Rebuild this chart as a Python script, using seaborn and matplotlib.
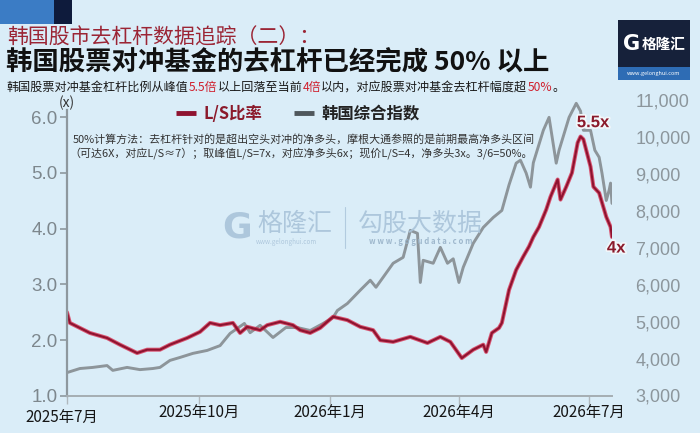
import matplotlib
matplotlib.use("Agg")
import matplotlib.pyplot as plt
import matplotlib.patheffects as pe
from matplotlib.lines import Line2D
from matplotlib.patches import Rectangle
from matplotlib.transforms import ScaledTranslation
import pandas as pd
import seaborn as sns

# ---------------- data ----------------
ls_dates = ["2025-07-01", "2025-07-03", "2025-07-10", "2025-07-17", "2025-07-29", "2025-08-07",
            "2025-08-19", "2025-08-26", "2025-09-04", "2025-09-11", "2025-09-23", "2025-10-02",
            "2025-10-09", "2025-10-16", "2025-10-25", "2025-10-30", "2025-11-04", "2025-11-13",
            "2025-11-18", "2025-11-27", "2025-12-06", "2025-12-11", "2025-12-18", "2025-12-25",
            "2026-01-03", "2026-01-13", "2026-01-22", "2026-01-31", "2026-02-05", "2026-02-14",
            "2026-02-26", "2026-03-10", "2026-03-19", "2026-03-26", "2026-04-03", "2026-04-11",
            "2026-04-18", "2026-04-20", "2026-04-24", "2026-04-29", "2026-05-01", "2026-05-06",
            "2026-05-11", "2026-05-16", "2026-05-20", "2026-05-23", "2026-05-27", "2026-06-01",
            "2026-06-04", "2026-06-09", "2026-06-11", "2026-06-15", "2026-06-19", "2026-06-23",
            "2026-06-25", "2026-06-27", "2026-07-02", "2026-07-04", "2026-07-08", "2026-07-13",
            "2026-07-16", "2026-07-17"]
ls_values = [2.50, 2.31, 2.22, 2.13, 2.04, 1.92,
             1.77, 1.83, 1.83, 1.92, 2.04, 2.15,
             2.31, 2.27, 2.31, 2.13, 2.24, 2.18,
             2.27, 2.33, 2.27, 2.18, 2.13, 2.22,
             2.42, 2.36, 2.24, 2.18, 2.00, 1.97,
             2.06, 1.95, 2.06, 1.97, 1.68, 1.83,
             1.92, 1.79, 2.13, 2.22, 2.31, 2.90,
             3.26, 3.50, 3.68, 3.85, 4.03, 4.34,
             4.57, 4.88, 4.52, 4.75, 5.00, 5.54,
             5.65, 5.60, 5.11, 4.75, 4.64, 4.21,
             4.03, 3.85]

kospi_dates = ["2025-07-01", "2025-07-10", "2025-07-19", "2025-07-29", "2025-08-02", "2025-08-12",
               "2025-08-21", "2025-08-30", "2025-09-04", "2025-09-11", "2025-09-18", "2025-09-27",
               "2025-10-07", "2025-10-16", "2025-10-23", "2025-11-02", "2025-11-06", "2025-11-13",
               "2025-11-22", "2025-12-01", "2025-12-09", "2025-12-18", "2025-12-27", "2026-01-03",
               "2026-01-06", "2026-01-13", "2026-01-22", "2026-01-29", "2026-02-02", "2026-02-07",
               "2026-02-14", "2026-02-21", "2026-02-26", "2026-03-03", "2026-03-05", "2026-03-07",
               "2026-03-14", "2026-03-19", "2026-03-24", "2026-03-28", "2026-04-01", "2026-04-04",
               "2026-04-11", "2026-04-18", "2026-04-25", "2026-05-01", "2026-05-06", "2026-05-11",
               "2026-05-14", "2026-05-18", "2026-05-21", "2026-05-23", "2026-05-30", "2026-06-03",
               "2026-06-08", "2026-06-10", "2026-06-17", "2026-06-22", "2026-06-25", "2026-06-27",
               "2026-07-02", "2026-07-05", "2026-07-08", "2026-07-10", "2026-07-13", "2026-07-15",
               "2026-07-16", "2026-07-17"]
kospi_values = [3620, 3730, 3760, 3810, 3680, 3760,
                3700, 3730, 3760, 3950, 4030, 4140,
                4220, 4350, 4680, 4950, 4700, 4900,
                4570, 4840, 4840, 4760, 4950, 5110,
                5300, 5490, 5850, 6120, 5930, 6200,
                6580, 6740, 7470, 7390, 6060, 6660,
                6580, 7010, 6580, 6700, 6060, 6470,
                7120, 7550, 7820, 8010, 8700, 9290,
                9370, 9020, 8640, 9300, 10180, 10530,
                9290, 9640, 10530, 10910, 10700, 10180,
                10180, 9640, 9450, 9020, 8280, 8560,
                8750, 8200]

x_tick_dates = ["2025-07-01", "2025-10-01", "2026-01-01", "2026-04-01", "2026-07-01"]
x_tick_labels = ["2025年7月", "2025年10月", "2026年1月", "2026年4月", "2026年7月"]
left_ticks = [1.0, 2.0, 3.0, 4.0, 5.0, 6.0]
right_ticks = [3000, 4000, 5000, 6000, 7000, 8000, 9000, 10000, 11000]

series_names = ["L/S比率", "韩国综合指数"]
peak_label = "5.5x"
end_label = "4x"

title1 = "韩国股市去杠杆数据追踪（二）："
title2 = "韩国股票对冲基金的去杠杆已经完成 50% 以上"
subtitle_parts = [("韩国股票对冲基金杠杆比例从峰值", "#1a1a1a"), ("5.5倍", "#d0202e"),
                  ("以上回落至当前", "#1a1a1a"), ("4倍", "#d0202e"),
                  ("以内，对应股票对冲基金去杠杆幅度超", "#1a1a1a"), ("50%", "#d0202e"),
                  ("。", "#1a1a1a")]
note1 = "50%计算方法：去杠杆针对的是超出空头对冲的净多头，摩根大通参照的是前期最高净多头区间"
note2 = "（可达6X，对应L/S≈7）；取峰值L/S=7x，对应净多头6x；现价L/S=4，净多头3x。3/6=50%。"

# ---------------- style ----------------
sns.set_theme(style="white")
plt.rcParams["font.family"] = ["Noto Sans CJK SC", "DejaVu Sans"]
plt.rcParams["axes.unicode_minus"] = False

BG = "#daedf8"
RED_DARK = "#8e1330"
RED_GLOW = "#d8163a"
GRAY_LINE = "#8d959a"
AXIS_GRAY = "#7d878d"
W, H = 700, 433

ls_df = pd.DataFrame({"date": pd.to_datetime(ls_dates), "value": ls_values})
kp_df = pd.DataFrame({"date": pd.to_datetime(kospi_dates), "value": kospi_values})

fig = plt.figure(figsize=(7, 4.33), dpi=100, facecolor=BG)


def fx(px):
    return px / W


def fy(py):
    return 1 - py / H


ax = fig.add_axes([fx(67), fy(396), fx(612) - fx(67), fy(100) - fy(396)])
ax2 = ax.twinx()
ax.set_zorder(ax2.get_zorder() + 1)
ax.patch.set_visible(False)
ax2.patch.set_visible(False)

# index line (right axis)
sns.lineplot(data=kp_df, x="date", y="value", ax=ax2, color=GRAY_LINE, lw=2.1, legend=False)
# L/S ratio line (left axis) with a glow
sns.lineplot(data=ls_df, x="date", y="value", ax=ax, color=RED_GLOW, lw=2.9, alpha=0.7, legend=False)
sns.lineplot(data=ls_df, x="date", y="value", ax=ax, color=RED_DARK, lw=1.5, legend=False)

xmin, xmax = ls_df["date"].min(), ls_df["date"].max()
ax.set_xlim(xmin, xmax)
ax.set_ylim(1.0, 6.305)
ax2.set_ylim(2986, 11000)

ax.set_xlabel("")
ax.set_ylabel("")
ax2.set_xlabel("")
ax2.set_ylabel("")

# left axis
ax.set_yticks(left_ticks)
ax.set_yticklabels([f"{v:.1f}" for v in left_ticks], family="Liberation Sans",
                   fontsize=13.5, color=AXIS_GRAY)
ax.tick_params(axis="y", direction="out", length=5, width=1.2, color="#8e989e", pad=2, left=True)

# x axis
ax.set_xticks(pd.to_datetime(x_tick_dates))
ax.set_xticklabels(x_tick_labels, fontsize=11, color="#151515")
ax.tick_params(axis="x", direction="out", length=6, width=1, color="#b0b8bd", pad=0, bottom=True)
first = ax.get_xticklabels()[0]
first.set_transform(first.get_transform() + ScaledTranslation(-5 / 100, -5 / 100, fig.dpi_scale_trans))

# right axis
ax2.set_yticks(right_ticks)
ax2.set_yticklabels([f"{v:,}" for v in right_ticks], family="Liberation Sans",
                    fontsize=13, color="#8c969c")
ax2.tick_params(axis="y", length=0, pad=17)

for a in (ax, ax2):
    for s in ("top", "right"):
        a.spines[s].set_visible(False)
ax2.spines["left"].set_visible(False)
ax2.spines["bottom"].set_visible(False)
ax.spines["left"].set_color("#8e989e")
ax.spines["left"].set_linewidth(1.6)
ax.spines["left"].set_bounds(1.0, 6.12)
ax.spines["bottom"].set_color("#a5aeb3")
ax.spines["bottom"].set_linewidth(1.4)
ax.grid(False)
ax2.grid(False)

# peak / end labels anchored to the data
halo = [pe.withStroke(linewidth=2.5, foreground="#f2f7fa")]
pk = ls_df["value"].idxmax()
ax.annotate(peak_label, xy=(ls_df["date"][pk], ls_df["value"][pk]), xytext=(9, 10),
            textcoords="offset points", ha="center", va="center", fontsize=12,
            fontweight="bold", family="Liberation Sans", color="#8b1a2b", path_effects=halo,
            annotation_clip=False)
ax.annotate(end_label, xy=(ls_df["date"].iloc[-1], ls_df["value"].iloc[-1]), xytext=(3, -8),
            textcoords="offset points", ha="center", va="center", fontsize=12,
            fontweight="bold", family="Liberation Sans", color="#8b1a2b", path_effects=halo,
            annotation_clip=False)

# "(x)" unit
fig.text(fx(67), fy(103), "(x)", ha="center", va="center", fontsize=10, color="#333333")

# legend
handles = [Line2D([], [], color=RED_DARK, lw=3.5, solid_capstyle="butt"),
           Line2D([], [], color="#4f575c", lw=3.5, solid_capstyle="butt")]
leg = fig.legend(handles, series_names, loc="center left", bbox_to_anchor=(fx(161), fy(114)),
                 ncol=2, frameon=False, handlelength=1.25, handletextpad=0.45,
                 columnspacing=1.9, prop={"size": 11.8, "weight": "bold"})
leg.get_texts()[0].set_color("#8b1a2b")
leg.get_texts()[1].set_color("#222222")

# notes
fig.text(fx(73), fy(139), note1, ha="left", va="center", fontsize=7.9, color="#333333")
fig.text(fx(69), fy(153), note2, ha="left", va="center", fontsize=7.9, color="#333333")

# watermark
wm = "#a9c3d9"
fig.text(fx(237), fy(228), "G", ha="center", va="center", fontsize=26, fontweight="heavy",
         family="DejaVu Sans", color=wm, alpha=0.9)
fig.text(fx(295), fy(224), "格隆汇", ha="center", va="center", fontsize=18, color=wm, alpha=0.9)
fig.text(fx(286), fy(242), "www.gelonghui.com", ha="center", va="center", fontsize=4.5,
         color=wm, alpha=0.9)
fig.add_artist(Line2D([fx(345), fx(345)], [fy(207), fy(248)], color=wm, lw=0.8, alpha=0.8))
fig.text(fx(420), fy(224), "勾股大数据", ha="center", va="center", fontsize=18, color=wm, alpha=0.9)
fig.text(fx(421), fy(242), "w w w . g o g u d a t a . c o m", ha="center", va="center",
         fontsize=5.5, color="#98b2c8", fontweight="bold", alpha=0.9)

# header decorations
fig.add_artist(Rectangle((0.0, fy(24)), fx(54), 24 / H, transform=fig.transFigure,
                         color="#3b7cc5", lw=0))
fig.add_artist(Rectangle((fx(54), fy(24)), fx(18), 24 / H, transform=fig.transFigure,
                         color="#0e1b3c", lw=0))

# logo top-right
fig.add_artist(Rectangle((fx(618), fy(67)), fx(72), 47 / H, transform=fig.transFigure,
                         color="#16213a", lw=0))
fig.add_artist(Rectangle((fx(618), fy(80)), fx(72), 13 / H, transform=fig.transFigure,
                         color="#2e6cb4", lw=0))
fig.text(fx(632), fy(44), "G", ha="center", va="center", fontsize=15, fontweight="heavy",
         family="DejaVu Sans", color="white")
fig.text(fx(664), fy(44), "格隆汇", ha="center", va="center", fontsize=10.5,
         fontweight="bold", color="white")
fig.text(fx(654), fy(74), "www.gelonghui.com", ha="center", va="center", fontsize=4,
         color="white")

# titles
fig.text(fx(7), fy(38), title1, ha="left", va="center", fontsize=15, color="#9b2535")
fig.text(fx(6), fy(62), title2, ha="left", va="center", fontsize=19, fontweight="bold",
         color="#111111")

prev = fig.text(fx(7), fy(94), subtitle_parts[0][0], ha="left", va="bottom", fontsize=8.7,
                color=subtitle_parts[0][1])
for s, c in subtitle_parts[1:]:
    prev = ax.annotate(s, xy=(1, 0), xycoords=prev, ha="left", va="bottom", fontsize=8.7,
                       color=c, annotation_clip=False)

fig.savefig("out.png", dpi=100, facecolor=BG)
